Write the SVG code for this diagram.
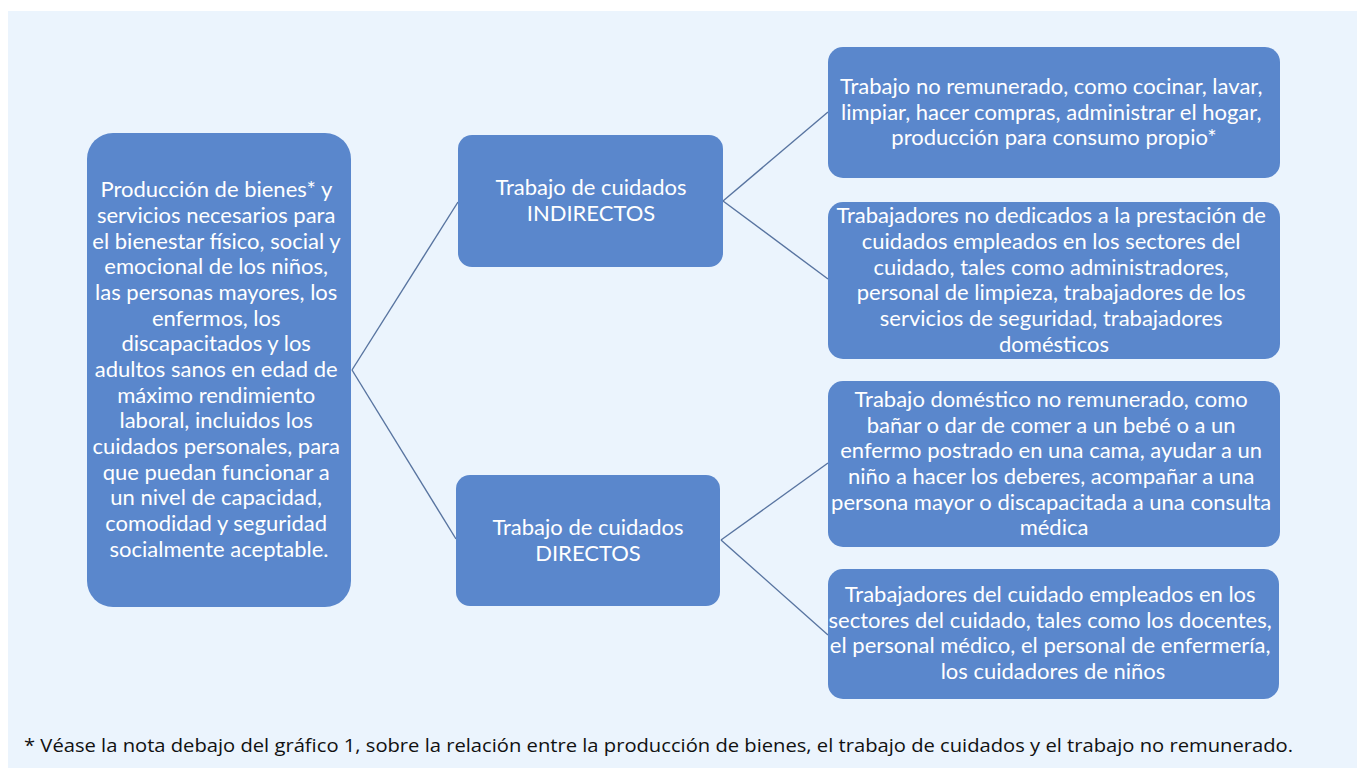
<svg xmlns="http://www.w3.org/2000/svg" width="1357" height="768" viewBox="0 0 1357 768">
<style>
.node{fill:#5A87CC;}
.t{font-family:Lato,"Open Sans","Liberation Sans",sans-serif;font-size:22px;fill:#FFFFFF;text-anchor:middle;}
.c{stroke:#5874A0;stroke-width:1.4;fill:none;}
.fn{font-family:"Open Sans","Noto Sans","Liberation Sans",sans-serif;font-size:18px;fill:#111111;}
</style>
<rect x="0" y="0" width="1357" height="768" fill="#FFFFFF"/>
<rect x="8" y="11" width="1349" height="757" fill="#EBF4FD"/>
<g id="connectors">
<line class="c" x1="352" y1="370" x2="458" y2="202"/>
<line class="c" x1="352" y1="370" x2="456" y2="539"/>
<line class="c" x1="723" y1="201" x2="828" y2="112"/>
<line class="c" x1="723" y1="201" x2="828" y2="279"/>
<line class="c" x1="721" y1="540" x2="828" y2="463"/>
<line class="c" x1="721" y1="540" x2="828" y2="635"/>
</g>
<g id="root">
<rect class="node" x="87" y="133" width="264" height="474" rx="26"/>
<text class="t">
<tspan x="219" y="197">Producción de bienes* y</tspan>
<tspan x="219" y="223">servicios necesarios para</tspan>
<tspan x="219" y="248.5">el bienestar físico, social y</tspan>
<tspan x="219" y="274">emocional de los niños,</tspan>
<tspan x="219" y="300">las personas mayores, los</tspan>
<tspan x="219" y="325.5">enfermos, los</tspan>
<tspan x="219" y="351">discapacitados y los</tspan>
<tspan x="219" y="377">adultos sanos en edad de</tspan>
<tspan x="219" y="402.5">máximo rendimiento</tspan>
<tspan x="219" y="428">laboral, incluidos los</tspan>
<tspan x="219" y="454">cuidados personales, para</tspan>
<tspan x="219" y="479.5">que puedan funcionar a</tspan>
<tspan x="219" y="505">un nivel de capacidad,</tspan>
<tspan x="219" y="531">comodidad y seguridad</tspan>
<tspan x="219" y="556.5">socialmente aceptable.</tspan>
</text>
</g>
<g id="indirectos">
<rect class="node" x="458" y="135" width="265" height="132" rx="14"/>
<text class="t"><tspan x="591" y="195">Trabajo de cuidados</tspan><tspan x="591" y="220.5">INDIRECTOS</tspan></text>
</g>
<g id="directos">
<rect class="node" x="456" y="475" width="264" height="131" rx="14"/>
<text class="t"><tspan x="588" y="535">Trabajo de cuidados</tspan><tspan x="588" y="560.5">DIRECTOS</tspan></text>
</g>
<g id="r1">
<rect class="node" x="828" y="47" width="452" height="131" rx="15"/>
<text class="t">
<tspan x="1054" y="94">Trabajo no remunerado, como cocinar, lavar,</tspan>
<tspan x="1054" y="119.5">limpiar, hacer compras, administrar el hogar,</tspan>
<tspan x="1054" y="145">producción para consumo propio*</tspan>
</text>
</g>
<g id="r2">
<rect class="node" x="828" y="202" width="452" height="157" rx="15"/>
<text class="t">
<tspan x="1054" y="223">Trabajadores no dedicados a la prestación de</tspan>
<tspan x="1054" y="249">cuidados empleados en los sectores del</tspan>
<tspan x="1054" y="274.5">cuidado, tales como administradores,</tspan>
<tspan x="1054" y="300">personal de limpieza, trabajadores de los</tspan>
<tspan x="1054" y="326">servicios de seguridad, trabajadores</tspan>
<tspan x="1054" y="351.5">domésticos</tspan>
</text>
</g>
<g id="r3">
<rect class="node" x="828" y="381" width="452" height="166" rx="15"/>
<text class="t">
<tspan x="1054" y="407">Trabajo doméstico no remunerado, como</tspan>
<tspan x="1054" y="432.5">bañar o dar de comer a un bebé o a un</tspan>
<tspan x="1054" y="458">enfermo postrado en una cama, ayudar a un</tspan>
<tspan x="1054" y="484">niño a hacer los deberes, acompañar a una</tspan>
<tspan x="1054" y="509.5">persona mayor o discapacitada a una consulta</tspan>
<tspan x="1054" y="535">médica</tspan>
</text>
</g>
<g id="r4">
<rect class="node" x="828" y="569" width="451" height="130" rx="15"/>
<text class="t">
<tspan x="1053" y="602">Trabajadores del cuidado empleados en los</tspan>
<tspan x="1053" y="627.5">sectores del cuidado, tales como los docentes,</tspan>
<tspan x="1053" y="653">el personal médico, el personal de enfermería,</tspan>
<tspan x="1053" y="678.5">los cuidadores de niños</tspan>
</text>
</g>
<g id="footnote">
<text class="fn" x="24" y="752" textLength="1269" lengthAdjust="spacingAndGlyphs">* Véase la nota debajo del gráfico 1, sobre la relación entre la producción de bienes, el trabajo de cuidados y el trabajo no remunerado.</text>
</g>
</svg>
